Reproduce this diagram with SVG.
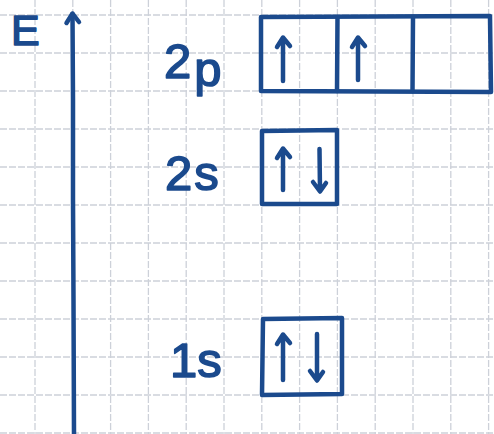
<svg xmlns="http://www.w3.org/2000/svg" width="494" height="434" viewBox="0 0 494 434">
<style>
.grid{stroke:#cdd1d9;stroke-width:1.3;stroke-dasharray:7 2;fill:none}
.ink{stroke:#1b4a8d;stroke-width:4.5;fill:none;stroke-linecap:round;stroke-linejoin:round}
.box{stroke:#1b4a8d;stroke-width:4.5;fill:none;stroke-linejoin:round}
.lbl{font-family:"Liberation Sans","DejaVu Sans",sans-serif;fill:#1b4a8d;stroke:#1b4a8d;stroke-width:1.6;stroke-linejoin:round;font-size:49px}
</style>
<rect width="494" height="434" fill="#ffffff"/>
<g id="grid">
<path class="grid" d="M35 0V434M72.8 0V434M110.6 0V434M148.4 0V434M186.2 0V434M224 0V434M261.8 0V434M299.6 0V434M337.4 0V434M375.2 0V434M413 0V434M450.8 0V434M488.6 0V434"/>
<path class="grid" d="M0 15H494M0 53H494M0 91H494M0 129H494M0 167H494M0 205H494M0 243H494M0 281H494M0 319H494M0 357H494M0 395H494M0 433H494"/>
</g>
<g id="connectors">
<path class="ink" d="M74 434 L73.5 300 L73 200 L73 100 L72.5 14"/>
<path class="ink" d="M66.5 23 L72.5 13.5 L79 22"/>
</g>
<g id="axis-label">
<text class="lbl" x="11" y="45" style="font-size:43px">E</text>
</g>
<g id="orbital-2p">
<text class="lbl" x="164" y="78">2<tspan dx="3" dy="8">p</tspan></text>
<path class="box" d="M261 17 L490 16 L491 92 L261 91 Z"/>
<path class="ink" d="M337.5 17 L337 91 M413 17 L412.5 91"/>
<path class="ink" d="M283 81 L283 38 M277 47 L283 37.5 L290 46"/>
<path class="ink" d="M358 80 L358 38 M352 47 L358 37.5 L365 46"/>
</g>
<g id="orbital-2s">
<text class="lbl" x="165" y="190" style="letter-spacing:2px">2s</text>
<path class="box" d="M262 131 L337 130 L337 204 L262 204 Z"/>
<path class="ink" d="M283 190 L283 149 M277 158 L283 148.5 L290 157"/>
<path class="ink" d="M319.5 149 L320 191 M313 182 L320 191.5 L326 183"/>
</g>
<g id="orbital-1s">
<text class="lbl" x="170" y="377">1s</text>
<path class="box" d="M263 319 L342 318 L342 394 L262 395 Z"/>
<path class="ink" d="M283 380 L283 335 M277 344 L283 334.5 L290 343"/>
<path class="ink" d="M317 334 L317 380 M310 371 L317 380.5 L323 372"/>
</g>
</svg>
